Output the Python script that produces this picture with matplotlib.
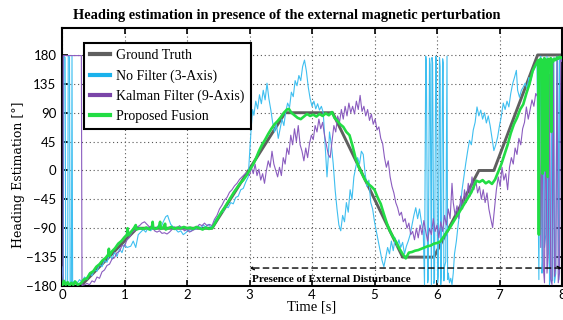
import numpy as np
import matplotlib.pyplot as plt
from matplotlib.lines import Line2D

# Ground truth heading (piecewise, deg)
t_gt = [0.0, 0.3, 1.2, 2.4, 3.57, 4.33, 5.45, 5.95, 6.67, 6.91, 7.61, 8.0]
v_gt = [-180, -180, -90, -90, 90, 90, -135, -135, 0, 0, 180, 180]

# No filter (3-axis)
t_nf = [0.00, 0.02, 0.03, 0.05, 0.06, 0.09, 0.10, 0.12, 0.13, 0.15, 0.16, 0.17, 0.20, 0.24, 0.28,
        0.32, 0.36, 0.40, 0.44, 0.48, 0.52, 0.56, 0.60, 0.64, 0.68, 0.72, 0.76, 0.80, 0.84, 0.88,
        0.92, 0.96, 1.00, 1.04, 1.10, 1.14, 1.18, 1.22, 1.26, 1.30, 1.34, 1.38, 1.42, 1.46, 1.50,
        1.54, 1.58, 1.62, 1.66, 1.69, 1.71, 1.74, 1.78, 1.82, 1.86, 1.90, 1.94, 1.98, 2.02, 2.06,
        2.10, 2.14, 2.18, 2.22, 2.26, 2.30, 2.34, 2.38, 2.42, 2.46, 2.50, 2.54, 2.58, 2.62, 2.66,
        2.70, 2.74, 2.78, 2.82, 2.86, 2.90, 2.94, 2.98, 3.01, 3.03, 3.05, 3.07, 3.10, 3.13, 3.16,
        3.19, 3.22, 3.25, 3.28, 3.31, 3.34, 3.37, 3.40, 3.43, 3.46, 3.49, 3.52, 3.55, 3.58, 3.61,
        3.64, 3.67, 3.70, 3.73, 3.76, 3.79, 3.82, 3.85, 3.88, 3.91, 3.94, 3.97, 4.00, 4.03, 4.06,
        4.09, 4.12, 4.15, 4.18, 4.21, 4.24, 4.26, 4.28, 4.31, 4.34, 4.37, 4.40, 4.43, 4.46, 4.49,
        4.52, 4.55, 4.58, 4.61, 4.64, 4.67, 4.70, 4.73, 4.76, 4.79, 4.82, 4.85, 4.88, 4.91, 4.94,
        4.97, 5.00, 5.03, 5.06, 5.09, 5.12, 5.15, 5.18, 5.21, 5.24, 5.27, 5.30, 5.33, 5.36, 5.39,
        5.42, 5.45, 5.48, 5.51, 5.54, 5.57, 5.60, 5.63, 5.66, 5.69, 5.72, 5.75, 5.78, 5.80, 5.82,
        5.83, 5.85, 5.86, 5.88, 5.89, 5.91, 5.92, 5.93, 5.95, 5.96, 5.98, 5.99, 6.01, 6.02, 6.04,
        6.05, 6.06, 6.07, 6.09, 6.10, 6.11, 6.12, 6.14, 6.16, 6.17, 6.18, 6.20, 6.22, 6.24, 6.26,
        6.28, 6.31, 6.34, 6.37, 6.40, 6.43, 6.46, 6.49, 6.52, 6.55, 6.58, 6.61, 6.64, 6.67, 6.70,
        6.73, 6.76, 6.79, 6.82, 6.85, 6.88, 6.91, 6.94, 6.97, 7.00, 7.03, 7.06, 7.09, 7.12, 7.15,
        7.18, 7.21, 7.24, 7.27, 7.29, 7.32, 7.35, 7.38, 7.41, 7.44, 7.47, 7.50, 7.53, 7.56, 7.60,
        7.63, 7.65, 7.66, 7.68, 7.69, 7.71, 7.72, 7.74, 7.76, 7.77, 7.79, 7.80, 7.82, 7.84, 7.85,
        7.87, 7.88, 7.90, 7.92, 7.93, 7.95, 7.96, 7.98, 8.00]
v_nf = [-150, -176, 178, 176, -178, -175, 179, 177, -177, -174, 178, -176, -172, -176, -170,
        -174, -166, -170, -160, -164, -154, -157, -146, -150, -140, -143, -130, -138, -128, -134,
        -122, -128, -115, -120, -118, -110, -120, -100, -96, -92, -96, -89, -94, -88, -92,
        -86, -90, -80, -72, -70, -76, -84, -88, -92, -96, -94, -100, -97, -93, -95,
        -90, -92, -87, -90, -85, -88, -84, -88, -84, -76, -72, -66, -64, -56, -58,
        -50, -52, -42, -40, -30, -28, -18, -10, 40, 70, 95, 86, 108, 96, 118,
        104, 125, 110, 136, 112, 95, 75, 60, 72, 50, 65, 80, 70, 92, 105,
        98, 122, 115, 140, 132, 148, 140, 162, 172, 155, 130, 112, 100, 108, 96,
        104, 94, 100, 90, 40, -10, 20, 60, 40, 10, -30, -60, -85, -94, -70,
        -80, -50, -65, -30, -45, -10, 5, 20, 10, 30, 25, -5, -25, -15, -50,
        -60, -80, -95, -110, -125, -140, -150, -135, -120, -130, -110, -125, -105, -118, -108,
        -120, -112, -130, -118, -110, -100, -85, -70, -58, -75, -60, -80, -95, -178, 178,
        170, -175, -170, 175, 165, -178, 176, 168, -176, -172, 178, 172, -175, -165, 176,
        162, -178, -160, 174, 168, -172, -150, -142, 178, -170, -160, -175, -168, -178, -160,
        -130, -110, -83, -60, -31, -10, 11, 30, 47, 40, 63, 75, 99, 85, 94,
        80, 90, 74, 85, 70, 50, 31, 40, 52, 70, 85, 105, 95, 108, 99,
        120, 135, 145, 156, 125, 114, 125, 130, 136, 128, 145, 140, 152, 160, 167,
        -170, 175, 178, -160, -140, 176, -120, -100, 178, -150, 174, -178, -165, 172, -172,
        176, -175, -160, 178, 170, -170, 175, 170, 172]

# Kalman filter (9-axis)
t_kf = [0.00, 0.015, 0.02, 0.10, 0.20, 0.31, 0.32, 0.36, 0.40, 0.44, 0.48, 0.52, 0.56, 0.60, 0.64,
        0.68, 0.72, 0.76, 0.80, 0.84, 0.88, 0.92, 0.96, 1.00, 1.04, 1.08, 1.12, 1.16, 1.20, 1.24,
        1.28, 1.32, 1.36, 1.40, 1.44, 1.48, 1.52, 1.56, 1.60, 1.64, 1.68, 1.72, 1.76, 1.80, 1.84,
        1.88, 1.92, 1.96, 2.00, 2.04, 2.08, 2.12, 2.16, 2.20, 2.24, 2.28, 2.32, 2.36, 2.40, 2.44,
        2.48, 2.52, 2.56, 2.60, 2.64, 2.68, 2.72, 2.76, 2.80, 2.84, 2.88, 2.92, 2.96, 3.00, 3.03,
        3.06, 3.09, 3.12, 3.15, 3.18, 3.21, 3.24, 3.27, 3.30, 3.33, 3.36, 3.39, 3.42, 3.45, 3.48,
        3.51, 3.54, 3.57, 3.60, 3.63, 3.66, 3.69, 3.72, 3.75, 3.78, 3.81, 3.84, 3.87, 3.90, 3.93,
        3.96, 3.99, 4.02, 4.05, 4.08, 4.11, 4.14, 4.17, 4.20, 4.23, 4.26, 4.29, 4.32, 4.35, 4.38,
        4.41, 4.44, 4.47, 4.50, 4.53, 4.56, 4.59, 4.62, 4.65, 4.68, 4.71, 4.74, 4.77, 4.80, 4.83,
        4.86, 4.89, 4.92, 4.95, 4.98, 5.01, 5.04, 5.07, 5.10, 5.13, 5.16, 5.19, 5.22, 5.25, 5.28,
        5.31, 5.34, 5.37, 5.40, 5.43, 5.46, 5.49, 5.52, 5.55, 5.58, 5.61, 5.64, 5.67, 5.70, 5.73,
        5.76, 5.79, 5.82, 5.85, 5.88, 5.91, 5.94, 5.97, 6.00, 6.03, 6.06, 6.09, 6.12, 6.15, 6.18,
        6.21, 6.24, 6.26, 6.29, 6.32, 6.35, 6.38, 6.41, 6.44, 6.47, 6.50, 6.53, 6.56, 6.59, 6.62,
        6.65, 6.68, 6.71, 6.74, 6.77, 6.80, 6.83, 6.86, 6.89, 6.92, 6.95, 6.98, 7.01, 7.04, 7.07,
        7.10, 7.13, 7.16, 7.19, 7.22, 7.25, 7.28, 7.31, 7.34, 7.37, 7.40, 7.43, 7.46, 7.49, 7.52,
        7.55, 7.58, 7.61, 7.64, 7.66, 7.68, 7.70, 7.72, 7.74, 7.76, 7.78, 7.80, 7.82, 7.84, 7.86,
        7.88, 7.90, 7.92, 7.94, 7.96, 7.98, 8.00]
v_kf = [-177, -178, 179, 179, 179, 179, -179, -178, -176, -178, -172, -174, -166, -168, -158,
        -155, -148, -146, -138, -136, -128, -126, -117, -118, -108, -104, -96, -94, -88, -86,
        -82, -80, -84, -88, -86, -94, -96, -94, -98, -97, -99, -96, -92, -88, -90,
        -86, -90, -94, -92, -96, -94, -92, -88, -84, -86, -82, -86, -84, -86, -76,
        -70, -60, -54, -46, -42, -34, -30, -24, -20, -14, -10, -6, -3, -8, 5,
        -5, 10, -8, 2, -15, -5, -20, 0, 15, 5, 30, 10, 0, -10, 5,
        -8, 20, 10, 35, 25, 55, 40, 65, 45, 70, 40, 30, 15, 35, 20,
        42, 55, 48, 70, 60, 80, 65, 75, 55, 40, 25, 20, 45, 70, 60,
        85, 75, 95, 80, 100, 85, 105, 90, 100, 88, 108, 95, 117, 92, 100,
        85, 95, 78, 88, 72, 80, 63, 68, 50, 42, 20, 5, 15, -10, -25,
        -35, -50, -58, -70, -65, -80, -75, -90, -82, -100, -95, -108, -90, -105, -85,
        -100, -78, -95, -110, -90, -100, -75, -95, -85, -105, -80, -95, -70, -85, -60,
        -75, -20, -50, -70, -55, -75, -40, -60, -30, -50, -20, -40, -10, -30, -15,
        -35, -25, -45, -30, -50, -35, -60, -75, -89, -60, -30, -10, -25, 5, -15,
        -5, -30, 5, 20, 10, 35, 25, 50, 40, 65, 75, 99, 80, 95, 110,
        100, 120, 115, 125, -120, 100, -150, -175, 120, -160, -130, 150, -170, -178, 170,
        -165, -150, 178, -175, -160, 175, 170]

# Proposed fusion
t_pf = [0.00, 0.03, 0.06, 0.09, 0.12, 0.15, 0.18, 0.21, 0.25, 0.30, 0.35, 0.40, 0.45, 0.50, 0.55,
        0.60, 0.65, 0.70, 0.74, 0.75, 0.76, 0.80, 0.85, 0.90, 0.95, 1.00, 1.04, 1.05, 1.06, 1.10,
        1.15, 1.18, 1.19, 1.25, 1.30, 1.35, 1.40, 1.44, 1.45, 1.46, 1.50, 1.55, 1.57, 1.58, 1.62,
        1.65, 1.66, 1.70, 1.75, 1.80, 1.85, 1.90, 1.95, 2.00, 2.05, 2.10, 2.15, 2.20, 2.25, 2.30,
        2.35, 2.40, 2.45, 2.50, 2.55, 2.60, 2.65, 2.70, 2.75, 2.80, 2.85, 2.90, 2.95, 3.00, 3.05,
        3.10, 3.15, 3.20, 3.25, 3.30, 3.35, 3.40, 3.45, 3.50, 3.55, 3.60, 3.63, 3.67, 3.72, 3.77,
        3.82, 3.87, 3.92, 3.97, 4.02, 4.07, 4.12, 4.17, 4.22, 4.27, 4.32, 4.36, 4.40, 4.45, 4.50,
        4.55, 4.60, 4.65, 4.70, 4.75, 4.80, 4.85, 4.90, 4.95, 5.00, 5.05, 5.10, 5.15, 5.20, 5.25,
        5.30, 5.35, 5.40, 5.45, 5.50, 5.55, 5.60, 5.65, 5.70, 5.75, 5.80, 5.85, 5.90, 5.95, 6.00,
        6.05, 6.10, 6.15, 6.20, 6.25, 6.30, 6.35, 6.40, 6.45, 6.50, 6.55, 6.60, 6.63, 6.68, 6.73,
        6.78, 6.83, 6.88, 6.93, 6.98, 7.03, 7.08, 7.13, 7.18, 7.23, 7.28, 7.33, 7.38, 7.43, 7.48,
        7.53, 7.58, 7.62, 7.63, 7.64, 7.66, 7.68, 7.69, 7.70, 7.72, 7.73, 7.74, 7.76, 7.77, 7.78,
        7.80, 7.82, 7.83, 7.84, 7.86, 7.88, 7.90, 7.92, 7.94, 7.96, 7.98, 8.00]
v_pf = [-180, -172, -178, -174, -179, -175, -178, -173, -178, -176, -170, -168, -160, -157, -150,
        -146, -140, -136, -131, -122, -133, -126, -121, -114, -110, -104, -100, -90, -101, -96,
        -90, -85, -92, -90, -91, -89, -92, -88, -80, -90, -91, -88, -80, -91, -89,
        -83, -92, -90, -88, -91, -89, -90, -88, -90, -89, -91, -88, -90, -92, -89,
        -91, -90, -82, -73, -65, -58, -50, -42, -34, -27, -20, -15, -8, 0, 8,
        18, 30, 40, 48, 57, 65, 72, 77, 83, 90, 95, 96, 90, 86, 82,
        80, 84, 88, 85, 87, 84, 88, 85, 89, 86, 91, 82, 78, 72, 68,
        60, 55, 38, 18, 5, -5, -15, -21, -25, -30, -42, -52, -68, -83, -95,
        -104, -112, -122, -130, -137, -128, -127, -125, -124, -122, -120, -118, -117, -114, -113,
        -111, -104, -97, -90, -82, -74, -66, -58, -50, -42, -34, -22, -16, -18, -15,
        -20, -17, -21, -14, -2, 10, 25, 40, 58, 72, 82, 95, 103, 120, 135,
        155, 165, 172, -100, 172, 174, 170, -5, 172, 175, 0, 173, 171, -10, 174,
        172, 175, 60, 173, 170, 174, 172, 176, 174, 177, 175, 176]

# tick labels
yticks = [-180, -135, -90, -45, 0, 45, 90, 135, 180]
xticks = [0, 1, 2, 3, 4, 5, 6, 7, 8]

c_gt = '#5f5f5f'
c_nf = '#3fbff0'
c_kf = '#8a5cbf'
c_pf = '#22dd44'

fig = plt.figure(figsize=(5.63, 3.2), dpi=100)
ax = fig.add_axes([62 / 563, 1 - 286 / 320, 500 / 563, 258 / 320])

ax.plot(t_gt, v_gt, color=c_gt, lw=2.1, zorder=2)
ax.plot(t_nf, v_nf, color=c_nf, lw=0.8, zorder=3)
ax.plot(t_kf, v_kf, color=c_kf, lw=0.8, zorder=3)
ax.plot(t_pf, v_pf, color=c_pf, lw=1.9, zorder=4)

ax.set_xlim(0, 8)
ax.set_ylim(-180, 222)
ax.set_xticks(xticks)
ax.set_yticks(yticks)
ax.tick_params(direction='in', length=4, width=1.2, top=True, right=True, labelsize=9.5)
ax.tick_params(axis='y', pad=4)
ax.tick_params(axis='x', pad=2)
for lab in ax.get_xticklabels() + ax.get_yticklabels():
    lab.set_family('Lato')
ax.grid(True, linestyle=(0, (1, 2.5)), color='#555555', lw=0.8)
for s in ax.spines.values():
    s.set_linewidth(1.5)

fig.text(287 / 563, 1 - 15 / 320,
         'Heading estimation in presence of the external magnetic perturbation',
         family='Liberation Serif', fontweight='bold', fontsize=10.4,
         ha='center', va='center')
ax.set_xlabel('Time [s]', family='Liberation Serif', fontsize=10.5, labelpad=0)
ax.set_ylabel('Heading Estimation [°]', family='DejaVu Serif', fontsize=9)
ax.yaxis.set_label_coords(-0.074, 0.43)

# disturbance arrow
ax.annotate('', xy=(3.0, -152), xytext=(8.0, -152),
            arrowprops=dict(arrowstyle='<->', linestyle=(0, (4, 3)), color='black',
                            lw=1, mutation_scale=6, shrinkA=0, shrinkB=0), zorder=6)
ax.text(3.04, -170, 'Presence of External Disturbance', family='Liberation Serif',
        fontweight='bold', fontsize=8, va='center', ha='left', zorder=6)

handles = [Line2D([], [], color=c_gt, lw=3),
           Line2D([], [], color='#1ab2ec', lw=3),
           Line2D([], [], color='#7a45a8', lw=3),
           Line2D([], [], color=c_pf, lw=3)]
labels = ['Ground Truth', 'No Filter (3-Axis)', 'Kalman Filter (9-Axis)', 'Proposed Fusion']
leg = ax.legend(handles, labels, loc='upper left', bbox_to_anchor=(0.044, 0.942),
                prop={'family': 'Liberation Serif', 'size': 10}, fancybox=False,
                framealpha=1, edgecolor='black', handlelength=1.4, handletextpad=0.45,
                borderpad=0.45, labelspacing=0.5, borderaxespad=0)
leg.get_frame().set_linewidth(1.5)
leg.set_zorder(10)

fig.savefig('out.png', dpi=100)
